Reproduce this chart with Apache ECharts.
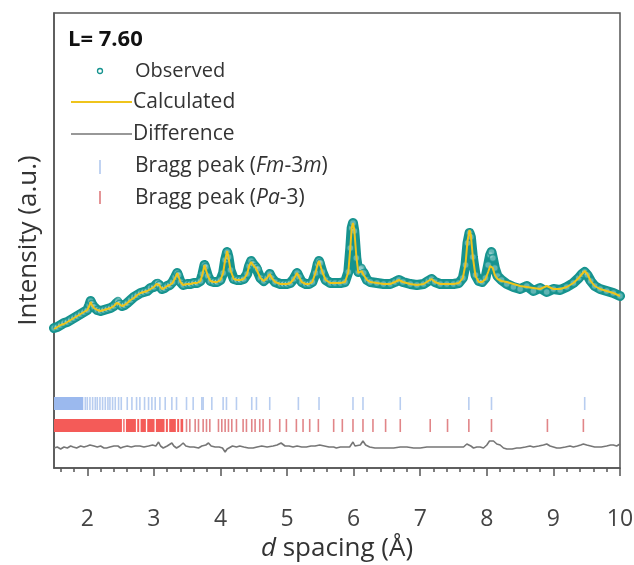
<!DOCTYPE html>
<html>
<head>
<meta charset="utf-8">
<script src="https://cdn.jsdelivr.net/npm/echarts@6/dist/echarts.min.js"></script>
<style>
html,body{margin:0;padding:0;background:#fff;}
#chart{width:634px;height:565px;}
</style>
</head>
<body>
<div id="chart"></div>
<script>
// ---------------- DATA ----------------
var dSpacing = [1.50,1.55,1.60,1.65,1.70,1.75,1.80,1.85,1.90,1.95,2.00,2.03,2.05,2.07,2.10,2.15,2.20,2.25,2.30,2.35,2.40,2.44,2.46,2.48,2.52,2.56,2.60,2.65,2.70,2.75,2.80,2.85,2.90,2.95,3.00,3.04,3.06,3.08,3.12,3.16,3.20,3.24,3.28,3.32,3.35,3.37,3.40,3.44,3.50,3.55,3.60,3.65,3.70,3.73,3.76,3.78,3.81,3.85,3.90,3.95,4.00,4.04,4.07,4.10,4.12,4.15,4.20,4.25,4.30,4.35,4.40,4.43,4.46,4.49,4.53,4.56,4.60,4.65,4.70,4.74,4.77,4.82,4.90,4.95,5.00,5.05,5.10,5.15,5.18,5.22,5.28,5.33,5.38,5.43,5.46,5.48,5.50,5.53,5.58,5.65,5.72,5.80,5.87,5.92,5.95,5.97,5.99,6.01,6.04,6.07,6.10,6.12,6.15,6.20,6.25,6.35,6.45,6.55,6.62,6.68,6.74,6.85,6.95,7.05,7.12,7.17,7.22,7.30,7.40,7.50,7.58,7.64,7.68,7.71,7.74,7.76,7.79,7.83,7.88,7.93,7.98,8.02,8.05,8.07,8.09,8.12,8.16,8.22,8.30,8.40,8.50,8.60,8.70,8.80,8.90,9.00,9.10,9.20,9.30,9.38,9.43,9.47,9.51,9.56,9.62,9.70,9.80,9.90,10.00];
var observed = [140,141,143,145,146,148,150,152,154,156,158,163,167,164,161,158,157,158,159,160,162,165,167,164,162,163,165,168,171,173,175,176,177,180,181,184,185,183,179,180,182,183,186,191,195,193,186,183,184,184,185,185,187,194,203,201,192,187,186,186,188,195,208,216,211,198,189,188,188,189,194,202,207,204,201,199,190,187,190,194,190,186,184,184,184,185,189,195,191,186,184,184,186,195,204,207,205,196,188,185,185,185,186,196,220,240,245,237,210,196,199,200,195,188,186,185,184,184,186,188,186,184,183,184,187,189,186,184,184,184,185,190,203,225,235,231,211,193,187,186,190,203,213,216,210,200,192,188,184,181,179,182,177,180,176,179,178,181,185,190,194,196,193,187,182,179,177,175,172];
var calculated = [139,141,143,144,146,148,150,152,154,156,158,162,166,163,160,158,157,158,159,160,162,165,167,164,162,163,165,168,170,173,175,176,177,179,181,184,185,183,179,180,182,183,185,190,195,193,186,183,184,184,185,185,187,194,203,201,192,187,186,186,188,195,208,217,211,198,189,188,188,189,194,202,206,203,200,198,190,187,190,194,190,186,184,184,184,185,189,195,191,186,184,184,186,196,204,207,205,196,188,185,185,185,186,196,220,240,245,238,212,195,196,197,193,188,186,185,184,184,186,188,186,184,183,184,187,189,186,184,184,184,185,190,204,227,238,233,211,192,186,186,189,196,202,204,200,193,189,187,186,184,182,181,180,179,182,179,179,181,185,190,194,197,194,187,182,179,177,175,172];

var diffD = [1.50,1.55,1.60,1.65,1.70,1.75,1.79,1.84,1.90,1.95,2.00,2.04,2.07,2.10,2.15,2.20,2.25,2.29,2.34,2.40,2.46,2.50,2.54,2.60,2.66,2.72,2.79,2.85,2.92,2.98,3.03,3.07,3.10,3.14,3.20,3.27,3.30,3.34,3.39,3.44,3.48,3.54,3.60,3.67,3.72,3.78,3.82,3.86,3.92,3.98,4.03,4.07,4.10,4.12,4.18,4.24,4.29,4.35,4.42,4.49,4.55,4.62,4.70,4.79,4.85,4.91,4.97,5.03,5.09,5.15,5.22,5.29,5.36,5.42,5.49,5.56,5.63,5.70,5.74,5.80,5.87,5.94,5.99,6.02,6.05,6.10,6.14,6.18,6.24,6.32,6.40,6.50,6.60,6.70,6.80,6.90,7.00,7.10,7.20,7.30,7.40,7.50,7.58,7.65,7.70,7.73,7.76,7.80,7.85,7.90,7.95,8.00,8.04,8.07,8.10,8.15,8.20,8.25,8.30,8.38,8.45,8.50,8.58,8.65,8.70,8.78,8.85,8.90,8.95,9.00,9.05,9.10,9.18,9.25,9.30,9.36,9.41,9.45,9.50,9.56,9.62,9.65,9.72,9.80,9.86,9.90,9.95,10.00];
var difference = [20,21,19,21,20,22,21,20,22,21,22,23,25,22,21,22,20,20,21,22,22,20,21,22,21,22,22,21,22,23,22,26,22,20,22,25,22,20,22,25,22,21,21,20,22,23,25,22,21,21,20,16,19,21,22,21,22,21,20,20,21,22,21,22,23,25,22,22,21,22,21,21,22,22,23,22,21,21,20,21,21,21,26,22,21,23,27,23,21,20,20,20,20,21,21,20,20,21,21,21,21,21,21,21,24,26,22,20,21,21,20,23,27,29,27,24,23,20,19,19,20,20,21,22,21,22,23,24,22,21,20,20,21,22,21,22,23,24,23,22,21,22,21,22,23,23,22,24];

// Bragg reflections: dense unresolved ranges [from, to] and single reflections
var fmBands = [[1.50,1.94]];
var fmPeaks = [1.97,2.00,2.04,2.08,2.12,2.15,2.19,2.23,2.27,2.31,2.34,2.38,2.42,2.47,2.51,2.60,2.67,2.74,2.79,2.86,2.92,2.97,3.02,3.09,3.17,3.27,3.34,3.49,3.59,3.72,3.74,3.87,4.04,4.09,4.24,4.47,4.54,4.74,5.17,5.48,5.99,6.14,6.70,7.73,8.07,9.47];
var paBands = [[1.50,2.52],[2.54,2.56],[2.58,2.73],[2.75,2.78],[2.80,2.88],[2.90,3.01],[3.03,3.16],[3.18,3.21],[3.23,3.33],[3.35,3.38],[3.40,3.44]];
var paPeaks = [3.49,3.54,3.62,3.67,3.74,3.79,3.84,3.97,4.02,4.07,4.12,4.17,4.24,4.34,4.39,4.47,4.52,4.59,4.64,4.74,4.89,4.99,5.14,5.24,5.34,5.47,5.70,5.83,5.99,6.14,6.29,6.48,6.70,7.15,7.41,7.73,8.07,8.91,9.45];

var xTickLabels = [2,3,4,5,6,7,8,9,10];
var X_MIN = 1.5, X_MAX = 10, X_TICK_STEP = 0.1;

// ---------------- CHART ----------------
var FM_ROW = 64.5, PA_ROW = 42.5, ROW_H = 13;
var FONT = '"Open Sans", "Liberation Sans", sans-serif';
var TEAL = '#16938f', YELLOW = '#efc41c', GREY = '#767676';
var BLUE = '#a6c0ec', BLUE_BAND = '#9bb9ee', RED = '#d9676a', RED_BAND = '#f45b58';

// tick grid (0.1 steps) for the axis tick marks only
var tickSlots = [];
for (var k = 0; k <= Math.round((X_MAX - X_MIN) / X_TICK_STEP); k++) tickSlots.push((X_MIN + k * X_TICK_STEP).toFixed(1));
function isMajor(i){ return i % 10 === 5; }
function isMinor(i){ return i % 2 === 1 && !isMajor(i); }

function pairs(xs, ys){ return xs.map(function(x,i){ return [x, ys[i]]; }); }
function bandSeries(bands, row, color){
  return {
    type:'custom', silent:true, z:3,
    data: bands,
    encode:{x:[0,1]},
    renderItem:function(params, api){
      var a = api.coord([api.value(0), row]);
      var b = api.coord([api.value(1), row]);
      return {type:'rect', shape:{x:a[0], y:a[1]-ROW_H/2, width:b[0]-a[0], height:ROW_H}, style:{fill:color}};
    }
  };
}
function tickSeries(peaks, row, color){
  return {
    type:'scatter', silent:true, z:3,
    symbol:'rect', symbolSize:[1.6, ROW_H],
    itemStyle:{color:color},
    data: peaks.map(function(d){ return [d, row]; })
  };
}
function tickAxis(len, filter){
  return {
    type:'category', data:tickSlots, boundaryGap:false, position:'bottom',
    axisLine:{show:false},
    axisTick:{show:true, inside:false, length:len, interval:function(i){ return filter(i); }, lineStyle:{color:'#555', width:1.5}},
    axisLabel:{show:false}, splitLine:{show:false}
  };
}

var chart = echarts.init(document.getElementById('chart'), null, {renderer:'canvas'});
chart.setOption({
  animation:false,
  backgroundColor:'#fff',
  grid:{left:54, right:14, top:13, bottom:97, outerBoundsMode:'none', containLabel:false, show:true, borderColor:'#555', borderWidth:1.5, backgroundColor:'transparent'},
  xAxis:[{
    type:'value', min:X_MIN, max:X_MAX,
    axisLine:{show:true, lineStyle:{color:'#555', width:1.5}},
    axisTick:{show:false},
    axisLabel:{show:true, margin:40, fontSize:23, color:'#444', fontFamily:FONT, customValues:xTickLabels},
    splitLine:{show:false},
    name:'{i|d} spacing (Å)', nameLocation:'middle', nameGap:67,
    nameTextStyle:{fontSize:26, color:'#333', fontFamily:FONT, rich:{i:{fontStyle:'italic', fontSize:26, color:'#333', fontFamily:FONT}}}
  },
  tickAxis(8, isMajor),
  tickAxis(4, isMinor)],
  yAxis:{
    type:'value', min:0, max:455,
    axisLine:{show:true, lineStyle:{color:'#555', width:1.5}},
    axisTick:{show:false}, axisLabel:{show:false}, splitLine:{show:false},
    name:'Intensity (a.u.)', nameLocation:'middle', nameGap:12, nameRotate:90,
    nameTextStyle:{fontSize:26, color:'#333', fontFamily:FONT}
  },
  series:[
    bandSeries(fmBands, FM_ROW, BLUE_BAND),
    tickSeries(fmPeaks, FM_ROW, BLUE),
    bandSeries(paBands, PA_ROW, RED_BAND),
    tickSeries(paPeaks, PA_ROW, RED),
    {type:'line', data:pairs(diffD, difference), showSymbol:false, symbol:'none', lineStyle:{color:GREY, width:1.6}, z:3, silent:true},
    {type:'line', data:pairs(dSpacing, observed), showSymbol:false, symbol:'none', lineStyle:{color:TEAL, width:10, join:'round', cap:'round'}, z:4, silent:true},
    {type:'scatter', data:pairs(dSpacing, observed), symbol:'circle', symbolSize:7, itemStyle:{color:'rgba(255,255,255,0.4)', borderColor:TEAL, borderWidth:1.5}, z:4, silent:true},
    {type:'line', data:pairs(dSpacing, calculated), showSymbol:false, symbol:'none', lineStyle:{color:YELLOW, width:2}, z:5, silent:true}
  ],
  graphic:[
    {type:'text', left:68, top:29, style:{text:'L= 7.60', font:'bold 22px ' + FONT, fill:'#111'}},
    {type:'circle', shape:{cx:100, cy:71, r:2.5}, style:{fill:'#fff', stroke:TEAL, lineWidth:1.3}},
    {type:'text', x:135, y:71, style:{text:'Observed', font:'20px ' + FONT, fill:'#333', verticalAlign:'middle'}},
    {type:'line', shape:{x1:71, y1:102, x2:132, y2:102}, style:{stroke:YELLOW, lineWidth:2}},
    {type:'text', x:133, y:102, style:{text:'Calculated', font:'21px ' + FONT, fill:'#333', verticalAlign:'middle'}},
    {type:'line', shape:{x1:71, y1:134, x2:132, y2:134}, style:{stroke:GREY, lineWidth:1.6}},
    {type:'text', x:133, y:134, style:{text:'Difference', font:'21px ' + FONT, fill:'#333', verticalAlign:'middle'}},
    {type:'rect', shape:{x:99.3, y:160, width:1.4, height:14}, style:{fill:BLUE}},
    {type:'text', x:135, y:166, style:{text:'Bragg peak ({i|Fm}-3{i|m})', font:'21px ' + FONT, fill:'#333', verticalAlign:'middle', rich:{i:{fontStyle:'italic', fontSize:21, fontFamily:FONT, fill:'#333'}}}},
    {type:'rect', shape:{x:99.3, y:191, width:1.4, height:13}, style:{fill:RED}},
    {type:'text', x:135, y:198, style:{text:'Bragg peak ({i|Pa}-3)', font:'21px ' + FONT, fill:'#333', verticalAlign:'middle', rich:{i:{fontStyle:'italic', fontSize:21, fontFamily:FONT, fill:'#333'}}}}
  ]
});
</script>
</body>
</html>
